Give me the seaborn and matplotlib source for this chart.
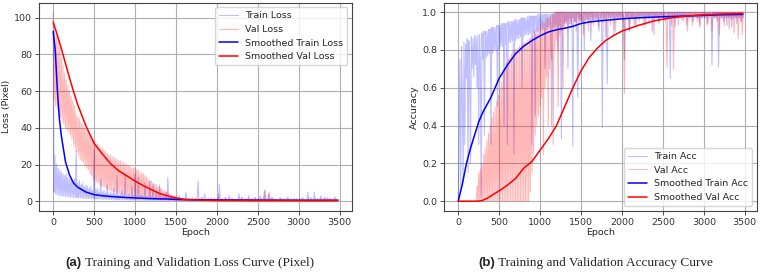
import numpy as np
import pandas as pd
import matplotlib
matplotlib.use("Agg")
import matplotlib.pyplot as plt
import seaborn as sns

# raw curves, one value every 10 epochs, rows = 250 epochs
STEP = 10

train_loss = [
    93, 5, 25, 4, 20, 3.5, 18, 3, 17, 3, 16, 2.8, 15, 2.8, 14, 2.5, 15, 2.5, 13, 2.3, 12, 2.2, 13, 2.2, 11,
    2, 12, 2, 28, 2, 10, 1.8, 11, 1.8, 9, 1.7, 10, 1.6, 8, 1.6, 9, 1.5, 8, 1.5, 7, 1.4, 8, 1.4, 6, 1.3,
    28, 1.3, 6, 1.2, 7, 1.2, 5, 1.1, 12, 1.1, 5, 1.0, 6, 1.0, 4.5, 1.0, 9, 0.9, 4, 0.9, 5, 0.9, 4, 0.8, 7,
    0.8, 4, 0.8, 14, 0.8, 3.5, 0.7, 4, 0.7, 6, 0.7, 3.5, 0.7, 15, 0.7, 3, 0.6, 4, 0.6, 3, 0.6, 8, 0.6, 3, 0.6,
    15, 0.6, 3, 0.6, 13, 0.5, 3, 0.5, 4, 0.5, 2.5, 0.5, 10, 0.5, 2.5, 0.5, 3, 0.5, 11, 0.5, 2.5, 0.5, 9, 0.5, 2,
    0.5, 6, 0.5, 2, 0.5, 9, 0.4, 2, 0.4, 3, 0.4, 2, 0.4, 5, 0.4, 13, 0.4, 2, 0.4, 3, 0.4, 1.5, 0.4, 2, 0.4,
    2, 0.4, 1.5, 0.4, 3, 0.4, 1.2, 0.3, 1.5, 0.3, 1.2, 0.3, 5, 0.3, 1.2, 0.3, 1.5, 0.3, 1, 0.3, 2, 0.3, 1, 0.3, 1.5,
    0.3, 3, 11, 0.3, 1, 0.3, 2, 0.3, 1, 0.3, 4, 0.3, 1, 0.3, 1.5, 0.3, 1, 0.3, 2, 0.3, 1, 0.3, 1.5, 0.3, 1,
    0.3, 2, 0.3, 9, 0.3, 1, 0.3, 1.5, 0.3, 1, 0.3, 2, 0.3, 1, 0.3, 3, 0.3, 1, 0.3, 1.5, 0.3, 1, 0.3, 1.2, 0.3,
    1, 0.3, 4, 0.3, 1, 0.3, 2, 0.3, 1, 0.3, 1.5, 0.3, 1, 0.3, 3, 0.3, 1, 0.3, 1.5, 0.3, 1, 0.3, 2, 0.3, 1,
    0.3, 1.5, 0.3, 3, 0.3, 1, 0.3, 2, 0.3, 6, 0.3, 1, 0.3, 4, 0.3, 1.5, 0.3, 2, 0.3, 1, 0.3, 1.5, 0.3, 1, 0.3,
    1, 0.3, 2, 0.3, 1, 0.3, 1.5, 0.3, 1, 0.3, 1, 0.3, 2, 0.3, 1, 0.3, 1.5, 0.3, 1, 0.3, 1, 0.3, 1.5, 0.3, 1,
    0.3, 1.5, 0.3, 1, 0.3, 2, 0.3, 1, 0.3, 1, 0.3, 5, 0.3, 1, 0.3, 2, 0.3, 1, 0.3, 5, 0.3, 1, 0.3, 1.5, 0.3,
    1, 0.3, 3, 0.3, 1, 0.3, 1.5, 0.3, 1, 0.3, 2, 0.3, 1, 0.3, 1.5, 0.3, 1, 0.3, 1, 0.3, 1.5, 0.3, 1, 0.3, 1,
]
val_loss = [
    103, 55, 93, 52, 90, 50, 87, 48, 84, 46, 78, 44, 74, 42, 70, 40, 66, 39, 63, 38, 60, 36, 57, 34, 55,
    31, 52, 29, 48, 27, 46, 25, 45, 23, 43, 22, 42, 21, 40, 19, 39, 18, 38, 17, 37, 15, 36, 14, 34, 12,
    33, 11, 32, 10.5, 31, 10, 30, 9, 29, 8.5, 29, 8, 28, 7.5, 27, 7, 26, 6.5, 25, 6, 25, 5.5, 24, 5.5, 24,
    5, 23, 5, 23, 4.5, 22, 4.5, 22, 4, 21, 4, 21, 3.5, 20, 3.5, 20, 3.5, 19, 3, 19, 3, 18, 3, 18, 2.5,
    18, 2.5, 17, 2.4, 17, 2.2, 16, 2.1, 15, 2, 15, 1.9, 14, 1.8, 13, 1.6, 12, 1.5, 11, 1.4, 11, 1.3, 10, 1.2, 9.5,
    1.1, 9, 1, 8, 0.9, 7.5, 0.8, 7, 0.8, 6, 0.7, 5.5, 0.6, 5, 0.6, 4.5, 0.5, 4, 0.5, 3.5, 0.5, 3, 0.4, 3, 0.4,
    2.5, 0.4, 2, 0.4, 2, 0.3, 1.5, 0.3, 1.5, 0.3, 1.2, 0.3, 1, 0.3, 1.2, 0.3, 1, 0.3, 0.8, 0.3, 1, 0.3, 0.8, 0.3, 1,
    0.3, 0.8, 0.3, 1.5, 0.3, 0.8, 0.3, 2, 0.3, 0.8, 0.3, 1, 0.3, 0.8, 0.3, 1.5, 0.3, 0.8, 0.3, 1, 0.3, 0.8, 0.3, 1, 0.3,
    1, 0.3, 4, 0.3, 0.8, 0.3, 1, 0.3, 0.8, 0.3, 2, 0.3, 0.8, 0.3, 1, 0.3, 0.8, 0.3, 1.5, 0.3, 0.8, 0.3, 1, 0.3, 0.8,
    0.3, 1, 0.3, 0.8, 0.3, 2, 0.3, 0.8, 0.3, 1, 0.3, 0.8, 0.3, 1.5, 0.3, 0.8, 0.3, 1, 0.3, 0.8, 0.3, 2, 0.3, 0.8, 0.3,
    1, 0.3, 0.8, 0.3, 1.5, 0.3, 0.8, 0.3, 6, 0.3, 1, 0.3, 0.8, 0.3, 5, 0.3, 1, 0.3, 2, 0.3, 0.8, 0.3, 1, 0.3, 0.8,
    0.3, 1, 0.3, 1.5, 0.3, 0.8, 0.3, 1, 0.3, 0.8, 0.3, 2, 0.3, 0.8, 0.3, 1, 0.3, 0.8, 0.3, 1.5, 0.3, 0.8, 0.3, 1, 0.3,
    0.8, 0.3, 1, 0.3, 1.5, 0.3, 0.8, 0.3, 1, 0.3, 0.8, 0.3, 2, 0.3, 0.8, 0.3, 1, 0.3, 0.8, 0.3, 1.5, 0.3, 0.8, 0.3, 1,
    0.3, 1.5, 0.3, 0.8, 0.3, 1, 0.3, 2.5, 0.3, 0.8, 0.3, 1, 0.3, 1.5, 0.3, 0.8, 0.3, 1, 0.3, 2.5, 0.3, 1, 0.3, 0.8, 0.3,
]
train_acc = [
    0, 0.3, 0.75, 0.05, 0.82, 0.55, 0.1, 0.84, 0.3, 0.83, 0.65, 0.86, 0.15, 0.85, 0.68, 0.2, 0.87, 0.7, 0.86, 0.66, 0.88, 0.72, 0.87, 0.6, 0.88,
    0.3, 0.88, 0.74, 0.02, 0.89, 0.75, 0.9, 0.35, 0.9, 0.76, 0.9, 0.77, 0.91, 0.78, 0.91, 0.3, 0.92, 0.78, 0.92, 0.8, 0.92, 0.8, 0.93, 0.5, 0.93,
    0.8, 0.93, 0.82, 0.94, 0.82, 0.94, 0.4, 0.94, 0.83, 0.94, 0.3, 0.95, 0.84, 0.95, 0.84, 0.95, 0.85, 0.95, 0.25, 0.96, 0.85, 0.96, 0.86, 0.96, 0.86,
    0.96, 0.87, 0.97, 0.6, 0.97, 0.87, 0.97, 0.88, 0.97, 0.88, 0.98, 0.88, 0.98, 0.89, 0.98, 0.3, 0.98, 0.89, 0.98, 0.45, 0.98, 0.9, 0.99, 0.9, 0.99,
    0.9, 0.99, 0.91, 0.99, 0.91, 0.99, 0.7, 0.99, 0.91, 0.99, 0.92, 0.99, 0.92, 0.99, 0.4, 0.99, 0.92, 1.0, 0.92, 1.0, 0.93, 1.0, 0.8, 1.0, 0.93,
    1.0, 0.33, 1.0, 0.93, 1.0, 0.94, 1.0, 0.94, 1.0, 0.7, 1.0, 0.94, 1.0, 0.94, 1.0, 0.29, 1.0, 0.95, 1.0, 0.95, 1.0, 0.55, 1.0, 0.95, 1.0,
    0.95, 1.0, 0.95, 1.0, 0.8, 1.0, 0.96, 1.0, 0.96, 1.0, 0.96, 1.0, 0.85, 1.0, 0.96, 1.0, 0.96, 1.0, 0.96, 1.0, 0.96, 1.0, 0.9, 1.0, 0.96,
    1.0, 0.39, 1.0, 0.96, 1.0, 0.97, 1.0, 0.62, 1.0, 0.97, 1.0, 0.97, 1.0, 0.97, 1.0, 0.88, 1.0, 0.97, 1.0, 0.97, 1.0, 0.97, 1.0, 0.97, 1.0,
    0.97, 1.0, 0.97, 0.75, 1.0, 0.97, 1.0, 0.97, 1.0, 0.9, 1.0, 0.97, 1.0, 0.97, 1.0, 0.97, 1.0, 0.92, 1.0, 0.97, 1.0, 0.97, 1.0, 0.97, 1.0,
    0.97, 1.0, 0.97, 1.0, 0.93, 1.0, 0.97, 1.0, 0.97, 1.0, 0.97, 1.0, 0.9, 1.0, 0.97, 1.0, 0.97, 1.0, 0.97, 1.0, 0.94, 1.0, 0.97, 1.0, 0.97,
    1.0, 0.97, 1.0, 0.95, 1.0, 0.97, 1.0, 0.97, 1.0, 0.65, 1.0, 0.97, 1.0, 0.97, 1.0, 0.92, 1.0, 0.97, 1.0, 0.97, 1.0, 0.97, 1.0, 0.96, 1.0,
    0.97, 1.0, 0.97, 1.0, 0.93, 1.0, 0.97, 1.0, 0.97, 1.0, 0.97, 1.0, 0.95, 1.0, 0.97, 1.0, 0.97, 1.0, 0.97, 1.0, 0.93, 1.0, 0.97, 1.0, 0.97,
    1.0, 0.97, 1.0, 0.97, 1.0, 0.94, 1.0, 0.97, 1.0, 0.97, 0.72, 1.0, 0.97, 1.0, 0.97, 1.0, 0.97, 1.0, 0.71, 1.0, 0.97, 1.0, 0.97, 1.0, 0.95,
    1.0, 0.97, 1.0, 0.93, 1.0, 0.97, 1.0, 0.97, 1.0, 0.92, 1.0, 0.97, 1.0, 0.97, 1.0, 0.94, 1.0, 0.97, 1.0, 0.97, 1.0, 0.95, 1.0, 0.97, 1.0,
]
val_acc = [
    0, 0, 0, 0, 0, 0, 0, 0, 0, 0, 0, 0, 0, 0, 0, 0, 0, 0, 0, 0, 0, 0, 0, 0.08, 0,
    0.15, 0, 0.17, 0, 0.2, 0, 0.25, 0, 0.28, 0, 0.32, 0, 0.36, 0, 0.4, 0, 0.44, 0, 0.47, 0, 0.5, 0, 0.53, 0, 0.56,
    0, 0.6, 0, 0.63, 0, 0.67, 0, 0.7, 0, 0.73, 0, 0.75, 0, 0.76, 0, 0.78, 0, 0.79, 0, 0.8, 0, 0.8, 0, 0.81, 0,
    0.82, 0, 0.82, 0, 0.83, 0, 0.84, 0, 0.84, 0, 0.85, 0, 0.86, 0.05, 0.86, 0.15, 0.87, 0.25, 0.9, 0.35, 0.88, 0.4, 0.92, 0.45, 0.9,
    0.5, 0.93, 0.55, 0.95, 0.25, 0.94, 0.6, 0.96, 0.65, 0.97, 0.4, 0.97, 0.7, 0.98, 0.75, 0.99, 0.3, 0.99, 0.8, 1.0, 0.85, 1.0, 0.5, 1.0, 0.88,
    1.0, 0.9, 1.0, 0.6, 1.0, 0.92, 1.0, 0.95, 1.0, 0.93, 1.0, 0.97, 1.0, 0.92, 1.0, 0.97, 1.0, 0.95, 1.0, 0.9, 1.0, 0.97, 1.0, 0.96, 1.0,
    0.95, 1.0, 1.0, 0.88, 1.0, 1.0, 0.96, 1.0, 1.0, 0.9, 1.0, 1.0, 0.97, 1.0, 1.0, 0.93, 1.0, 1.0, 0.97, 1.0, 1.0, 0.92, 1.0, 1.0, 0.97,
    1.0, 1.0, 0.95, 1.0, 1.0, 0.87, 1.0, 1.0, 0.97, 1.0, 1.0, 0.93, 1.0, 1.0, 0.97, 1.0, 1.0, 0.9, 1.0, 1.0, 0.96, 1.0, 1.0, 0.97, 1.0,
    1.0, 0.95, 1.0, 0.57, 1.0, 1.0, 0.97, 1.0, 1.0, 0.9, 1.0, 1.0, 0.97, 1.0, 1.0, 0.93, 1.0, 1.0, 0.97, 1.0, 1.0, 0.95, 1.0, 1.0, 0.98,
    1.0, 1.0, 0.92, 1.0, 1.0, 0.97, 1.0, 1.0, 0.95, 1.0, 1.0, 0.98, 1.0, 1.0, 0.88, 1.0, 1.0, 0.97, 1.0, 1.0, 0.95, 1.0, 1.0, 0.98, 1.0,
    1.0, 0.97, 1.0, 1.0, 0.95, 0.71, 1.0, 1.0, 0.97, 1.0, 1.0, 0.93, 1.0, 0.70, 1.0, 1.0, 0.97, 1.0, 1.0, 0.93, 1.0, 1.0, 0.97, 1.0, 1.0,
    0.95, 1.0, 1.0, 0.98, 1.0, 0.9, 1.0, 1.0, 0.97, 1.0, 1.0, 0.93, 1.0, 1.0, 0.98, 1.0, 1.0, 0.95, 1.0, 1.0, 0.92, 1.0, 1.0, 0.97, 1.0,
    1.0, 0.97, 1.0, 1.0, 0.93, 1.0, 1.0, 0.98, 1.0, 1.0, 0.9, 1.0, 1.0, 0.97, 1.0, 1.0, 0.95, 1.0, 1.0, 0.88, 1.0, 1.0, 0.97, 1.0, 1.0,
    0.93, 1.0, 1.0, 0.97, 1.0, 1.0, 0.91, 1.0, 1.0, 0.96, 1.0, 1.0, 0.89, 1.0, 1.0, 0.97, 1.0, 0.86, 1.0, 1.0, 0.95, 1.0, 0.88, 1.0, 1.0,
]

# smoothed curves
sm_loss_ep = [0, 25, 50, 75, 100, 150, 200, 250, 300, 400, 500, 600, 700, 800, 900,
              1000, 1100, 1200, 1300, 1400, 1500, 1600, 1800, 2000, 2500, 3000, 3475]
sm_train_loss = [92.5, 82, 61, 45, 35.4, 21.4, 14.2, 9.8, 7.6, 5.0, 3.6, 3.0, 2.6, 2.3, 2.0,
                 1.8, 1.6, 1.4, 1.3, 1.2, 1.0, 0.9, 0.8, 0.7, 0.6, 0.5, 0.5]
sm_val_loss = [97.6, 94, 90.5, 86.7, 83, 75, 67, 59.5, 52.5, 41, 31.5, 25.8, 20.5, 16.6, 13.8,
               11, 8.5, 6.3, 4.2, 2.9, 1.8, 1.0, 0.6, 0.4, 0.3, 0.3, 0.3]

sm_acc_ep = [0, 50, 100, 150, 200, 250, 300, 350, 400, 450, 500, 600, 700, 800, 900, 1000,
             1100, 1200, 1300, 1400, 1500, 1600, 1700, 1800, 1900, 2000, 2200, 2400, 2600,
             2800, 3000, 3200, 3475]
sm_train_acc = [0, 0.09, 0.2, 0.28, 0.35, 0.42, 0.47, 0.51, 0.55, 0.6, 0.65, 0.72, 0.78,
                0.82, 0.85, 0.875, 0.895, 0.907, 0.915, 0.925, 0.94, 0.948, 0.953, 0.957,
                0.961, 0.965, 0.97, 0.974, 0.977, 0.98, 0.983, 0.986, 0.988]
sm_val_acc = [0, 0, 0, 0, 0, 0.001, 0.005, 0.015, 0.028, 0.042, 0.055, 0.085, 0.12, 0.175,
              0.21, 0.27, 0.33, 0.40, 0.50, 0.60, 0.69, 0.76, 0.81, 0.85, 0.877, 0.90, 0.93,
              0.955, 0.97, 0.98, 0.986, 0.99, 0.993]

sns.set_style("ticks")
plt.rcParams["font.family"] = ["DejaVu Sans"]
plt.rcParams["font.size"] = 6.8

fig = plt.figure(figsize=(7.6, 2.72), dpi=100)
ax1 = fig.add_axes([0.0513, 0.2254, 0.4117, 0.7646])
ax2 = fig.add_axes([0.5842, 0.2254, 0.4118, 0.7646])


def ep(vals):
    return np.arange(len(vals)) * STEP


def draw_panel(ax, raw_tr, raw_va, sm_ep, sm_tr, sm_va, names, ylab):
    sns.lineplot(x=ep(raw_tr), y=raw_tr, ax=ax, color="blue", alpha=0.25, lw=0.8, label=names[0])
    sns.lineplot(x=ep(raw_va), y=raw_va, ax=ax, color="red", alpha=0.28, lw=0.8, label=names[1])
    sns.lineplot(x=sm_ep, y=sm_tr, ax=ax, color="blue", lw=1.1, label=names[2])
    sns.lineplot(x=sm_ep, y=sm_va, ax=ax, color="red", lw=1.1, label=names[3])
    ax.grid(True, color="#b0b0b0", lw=0.8)
    ax.set_xlabel("Epoch", fontsize=6.8, labelpad=1)
    ax.set_ylabel(ylab, fontsize=6.8, labelpad=2)
    ax.set_xticks(range(0, 3501, 500))
    ax.tick_params(labelsize=6.8, length=3, width=0.6, pad=2, colors="#333333")
    for s in ax.spines.values():
        s.set_color("#444444")
        s.set_linewidth(0.8)


draw_panel(ax1, train_loss, val_loss, sm_loss_ep, sm_train_loss, sm_val_loss,
           ["Train Loss", "Val Loss", "Smoothed Train Loss", "Smoothed Val Loss"], "Loss (Pixel)")
draw_panel(ax2, train_acc, val_acc, sm_acc_ep, sm_train_acc, sm_val_acc,
           ["Train Acc", "Val Acc", "Smoothed Train Acc", "Smoothed Val Acc"], "Accuracy")

ax1.set_xlim(-174, 3649)
ax1.set_ylim(-5.15, 108.15)
ax1.set_yticks([0, 20, 40, 60, 80, 100])
ax2.set_xlim(-174, 3649)
ax2.set_ylim(-0.05, 1.05)
ax2.set_yticks([0, 0.2, 0.4, 0.6, 0.8, 1.0])

ax1.legend(loc="upper right", fontsize=6.8, frameon=True, borderpad=0.4, handlelength=2)
ax2.legend(loc="lower right", fontsize=6.8, frameon=True, borderpad=0.4, handlelength=2)

# captions: bold sans label followed by serif text
fig.canvas.draw()
renderer = fig.canvas.get_renderer()
for label, text, cx in [("(a)", " Training and Validation Loss Curve (Pixel)", 190),
                        ("(b)", " Training and Validation Accuracy Curve", 596)]:
    t1 = fig.text(0, 0.033, label, fontsize=9.5, fontweight="bold",
                  family=["Liberation Sans"], va="center", ha="left")
    t2 = fig.text(0, 0.033, text, fontsize=9.5, family=["Liberation Serif"],
                  va="center", ha="left")
    w1 = t1.get_window_extent(renderer).width
    w2 = t2.get_window_extent(renderer).width
    x0 = cx - (w1 + w2) / 2
    t1.set_x(x0 / 760)
    t2.set_x((x0 + w1) / 760)

fig.savefig("out.png", dpi=100)
